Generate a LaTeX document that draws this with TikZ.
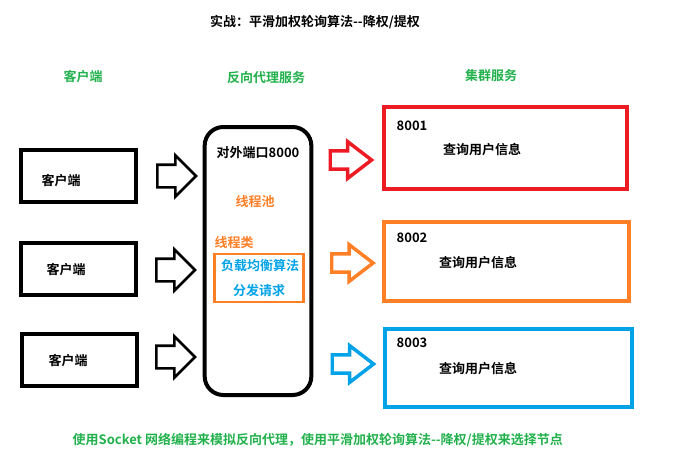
\documentclass[tikz,border=0pt]{standalone}
\usepackage{fontspec}
\usepackage{tikz}
\usetikzlibrary{shapes.arrows,positioning}

\newfontfamily\cjk{Noto Sans CJK SC}[BoldFont={Noto Sans CJK SC Bold}]

% colours of the sketch
\definecolor{pRed}{HTML}{ED1C24}
\definecolor{pOrange}{HTML}{FF7F27}
\definecolor{pBlue}{HTML}{00A2E8}
\definecolor{pGreen}{HTML}{22B14C}

\begin{document}
\begin{tikzpicture}[x=0.75pt,y=-0.75pt,
    font=\cjk\bfseries\fontsize{9.75}{11}\selectfont]

\useasboundingbox (0,0) rectangle (682,471);

% =========================
% Styles
% =========================
\tikzset{
    clientbox/.style={draw, line width=3pt, minimum width=86pt, minimum height=39pt, inner sep=0pt},
    serverbox/.style={draw, line width=3pt, inner sep=0pt},
    header/.style={text=pGreen},
    hollowarrow/.style={single arrow, draw, line width=1.9pt, fill=white,
        minimum height=29pt, inner sep=0pt, inner ysep=7.5pt,
        single arrow head extend=7pt},
    colorarrow/.style={single arrow, draw, line width=2.6pt, fill=white,
        minimum height=31pt, inner sep=0pt, inner ysep=5.5pt,
        single arrow head extend=7pt, single arrow tip angle=75}
}

% =========================
% Title & headers
% =========================
\node (title) at (315,22) {实战：平滑加权轮询算法--降权/提权};
\node[header] (hclient) at (83,77) {客户端};
\node[header] (hproxy) at (266,78) {反向代理服务};
\node[header] (hcluster) at (491,76) {集群服务};

% =========================
% Clients
% =========================
\node[clientbox] (client1) at (78.5,175.5) {};
\node[clientbox] (client2) at (78.5,268.5) {};
\node[clientbox] (client3) at (79.5,359.5) {};
\node (ctext1) at (61,181) {客户端};
\node (ctext2) at (66,270) {客户端};
\node (ctext3) at (68,361) {客户端};

\node[hollowarrow] (in1) at (171,176) {};
\node[hollowarrow] (in2) at (170,270) {};
\node[hollowarrow] (in3) at (170,357) {};

% =========================
% Reverse proxy
% =========================
\node[draw, line width=3pt, rounded corners=14pt, minimum width=80pt,
      minimum height=201pt, inner sep=0pt] (proxy) at (258,261) {};
\node (port) at (258,153) {对外端口8000};
\node[text=pOrange] (pool) at (255,202) {线程池};
\node[text=pOrange] (thread) at (234,243) {线程类};
\node[draw=pOrange, line width=1.9pt, minimum width=67pt, minimum height=36pt,
      inner sep=0pt] (algo) at (259,278) {};
\node[text=pBlue] (balance) at (260,266) {负载均衡算法};
\node[text=pBlue] (dispatch) at (259,291) {分发请求};

% =========================
% Cluster
% =========================
\node[colorarrow, draw=pRed] (out1) at (345,160) {};
\node[colorarrow, draw=pOrange] (out2) at (346.5,263) {};
\node[colorarrow, draw=pBlue] (out3) at (347,364) {};

\node[serverbox, draw=pRed, minimum width=182pt, minimum height=61.5pt] (server1) at (505.5,148) {};
\node[serverbox, draw=pOrange, minimum width=183.5pt, minimum height=59pt] (server2) at (506.5,261.5) {};
\node[serverbox, draw=pBlue, minimum width=185pt, minimum height=58.5pt] (server3) at (508.5,368) {};

\node[anchor=west] (port1) at (392,126) {8001};
\node[anchor=west] (port2) at (392,238) {8002};
\node[anchor=west] (port3) at (392,343) {8003};
\node (query1) at (482,150) {查询用户信息};
\node (query2) at (478,263) {查询用户信息};
\node (query3) at (478,369) {查询用户信息};

% =========================
% Footer
% =========================
\node[anchor=west, text=pGreen] (note) at (68,440)
    {使用Socket 网络编程来模拟反向代理，使用平滑加权轮询算法--降权/提权来选择节点};

\end{tikzpicture}
\end{document}
